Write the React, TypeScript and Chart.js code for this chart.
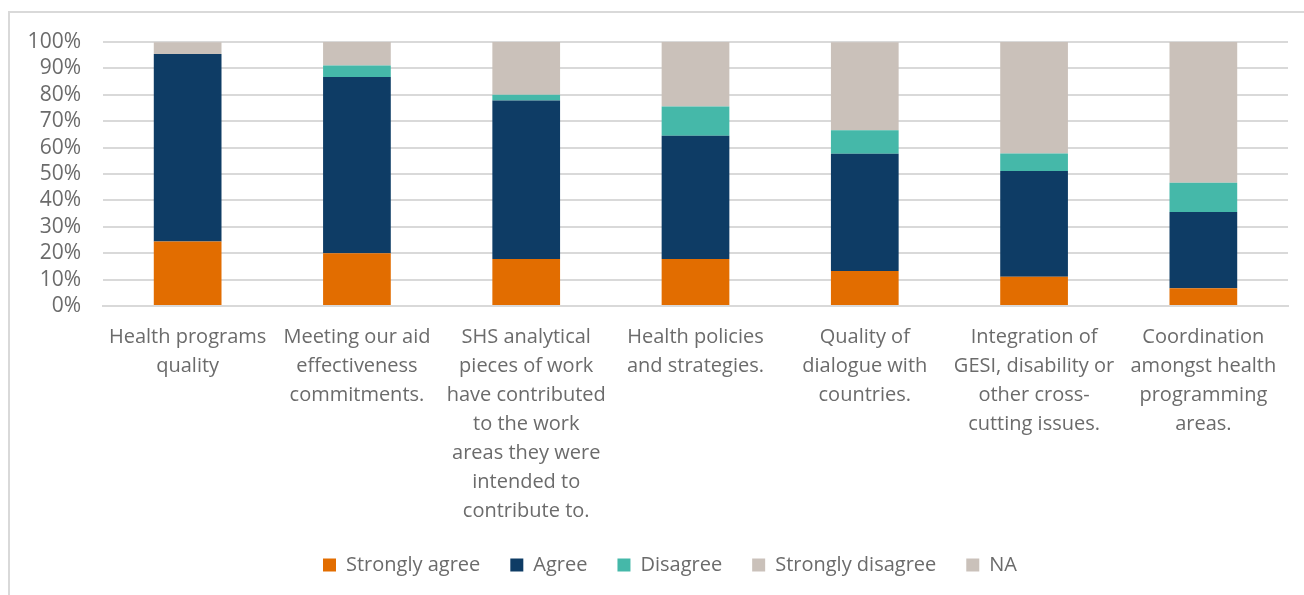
import React, { useEffect, useRef } from "react";
import { Chart, registerables } from "chart.js";

Chart.register(...registerables);

const categories: string[][] = [
  ["Health programs", "quality"],
  ["Meeting our aid", "effectiveness", "commitments."],
  ["SHS analytical", "pieces of work", "have contributed", "to the work", "areas they were", "intended to", "contribute to."],
  ["Health policies", "and strategies."],
  ["Quality of", "dialogue with", "countries."],
  ["Integration of", "GESI, disability or", "other cross-", "cutting issues."],
  ["Coordination", "amongst health", "programming", "areas."],
];

const stronglyAgree = [24.4, 20.0, 17.8, 17.8, 13.3, 11.1, 6.7];
const agree = [71.1, 66.7, 60.0, 46.7, 44.4, 40.0, 28.9];
const disagree = [0, 4.4, 2.2, 11.1, 8.9, 6.7, 11.1];
const stronglyDisagree = [0, 0, 0, 0, 0, 0, 0];
const notApplicable = [4.4, 8.9, 20.0, 24.4, 33.3, 42.2, 53.3];

const yTicks = [0, 10, 20, 30, 40, 50, 60, 70, 80, 90, 100];

const FONT = "'Open Sans', Lato, sans-serif";
const TEXT = "#6b6b6b";

const legendShift = {
  id: "legendShift",
  afterLayout(chart: any) {
    if (chart.legend) {
      chart.legend.left += 26;
      chart.legend.right += 26;
    }
  },
};

export default function App() {
  const ref = useRef<HTMLCanvasElement | null>(null);

  useEffect(() => {
    if (!ref.current) return;
    const chart = new Chart(ref.current, {
      type: "bar",
      data: {
        labels: categories,
        datasets: [
          { label: "Strongly agree", data: stronglyAgree, backgroundColor: "#E26D00" },
          { label: "Agree", data: agree, backgroundColor: "#0E3C65" },
          { label: "Disagree", data: disagree, backgroundColor: "#45B8A9" },
          { label: "Strongly disagree", data: stronglyDisagree, backgroundColor: "#CAC1BA" },
          { label: "NA", data: notApplicable, backgroundColor: "#CAC1BA" },
        ],
      },
      plugins: [legendShift],
      options: {
        animation: false,
        responsive: false,
        maintainAspectRatio: false,
        layout: { padding: { top: 42, right: 16, bottom: 10, left: 0 } },
        datasets: { bar: { barPercentage: 0.4, categoryPercentage: 1.0, borderWidth: 0 } },
        plugins: {
          tooltip: { enabled: false },
          legend: {
            position: "bottom",
            labels: {
              boxWidth: 13,
              boxHeight: 13,
              padding: 30,
              color: TEXT,
              font: { family: FONT, size: 20 },
            },
          },
        },
        scales: {
          x: {
            stacked: true,
            grid: { display: false, drawTicks: false },
            border: { display: true, color: "#d9d9d9", width: 2 },
            ticks: {
              autoSkip: false,
              maxRotation: 0,
              minRotation: 0,
              padding: 17,
              color: TEXT,
              font: { family: FONT, size: 20, lineHeight: 29 / 20 },
            },
            afterFit: (scale: any) => {
              scale.height = 219;
            },
          },
          y: {
            stacked: true,
            min: 0,
            max: 100,
            afterBuildTicks: (scale: any) => {
              scale.ticks = yTicks.map((v) => ({ value: v }));
            },
            grid: { color: "#d9d9d9", lineWidth: 2, drawTicks: false },
            border: { display: false },
            ticks: {
              autoSkip: false,
              padding: 22,
              color: TEXT,
              font: { family: FONT, size: 21 },
              callback: (v: any) => `${v}%`,
            },
            afterFit: (scale: any) => {
              scale.width = 103;
            },
          },
        },
      },
    } as any);
    return () => chart.destroy();
  }, []);

  return (
    <div style={{ position: "fixed", left: 0, top: 0, width: 1304, height: 595, background: "#fff" }}>
      <div
        style={{
          position: "absolute",
          left: 8,
          top: 11,
          width: 1400,
          height: 700,
          borderLeft: "2px solid #d9d9d9",
          borderTop: "2px solid #d9d9d9",
        }}
      />
      <canvas ref={ref} width={1304} height={595} style={{ position: "absolute", left: 0, top: 0 }} />
    </div>
  );
}
